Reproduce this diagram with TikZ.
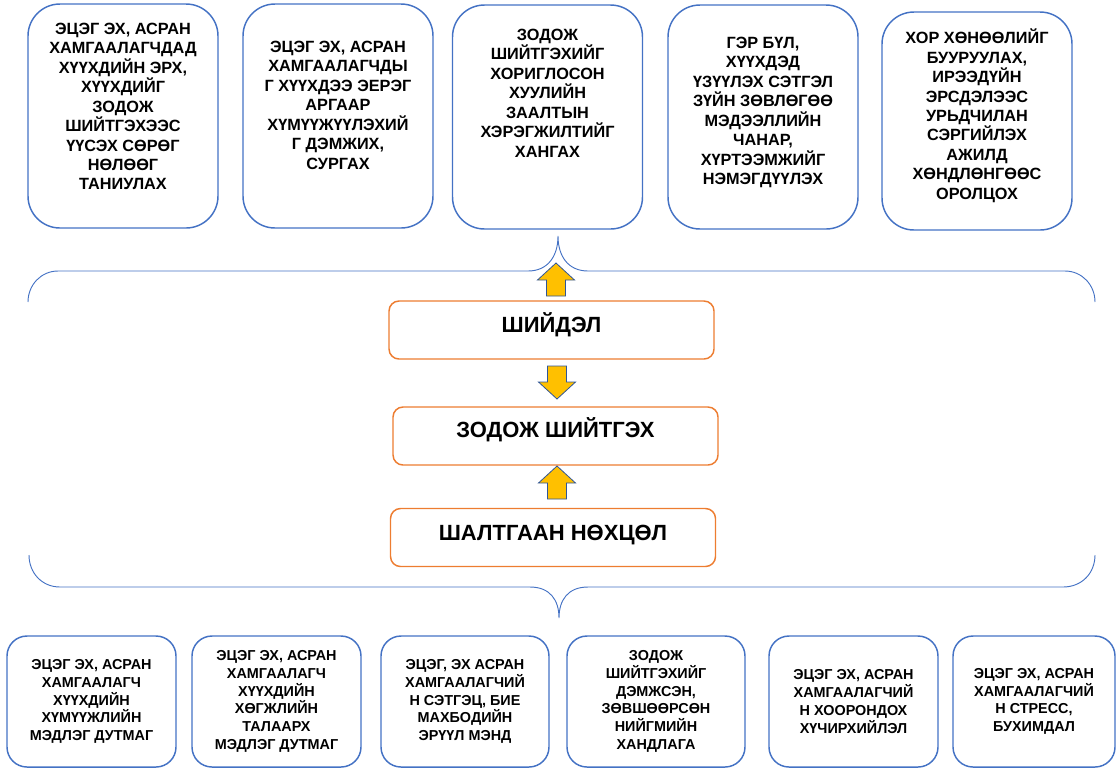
\documentclass[tikz,border=0pt]{standalone}
\usepackage{fontspec}
\setmainfont{Liberation Sans}
\usetikzlibrary{positioning}
\definecolor{boxblue}{HTML}{4472C4}
\definecolor{boxorange}{HTML}{ED7D31}
\definecolor{arrowyellow}{HTML}{FFC000}
\definecolor{arrowblue}{HTML}{2F5597}

\begin{document}
\begin{tikzpicture}[x=0.75pt,y=-0.75pt,
   topbox/.style={draw=boxblue,line width=1.1pt,rounded corners=24pt,minimum width=142.5pt,minimum height=168pt},
   toptext/.style={inner sep=0pt,align=center,font=\fontsize{12.2}{14.6}\selectfont\bfseries},
   midbox/.style={draw=boxorange,line width=1.1pt,rounded corners=7.5pt,minimum width=243.75pt,minimum height=43.5pt},
   midtext/.style={anchor=base,inner sep=0pt,font=\fontsize{16.5}{18}\selectfont\bfseries},
   botbox/.style={draw=boxblue,line width=1.1pt,rounded corners=15pt,minimum height=98.25pt,inner sep=0pt,align=center,font=\fontsize{10.8}{13.3}\selectfont\bfseries},
   brace/.style={draw=boxblue,line width=0.7pt},
   blockup/.pic={\draw[draw=arrowblue,fill=arrowyellow,line width=0.6pt,line join=miter]
      (-9.5,0) -- (-9.5,-16) -- (-18.5,-16) -- (0,-33) -- (18.5,-16) -- (9.5,-16) -- (9.5,0) -- cycle;}]
   \useasboundingbox (0,0) rectangle (1117,769);

   % results on top
   \node[topbox] (t1) at (123,116) {};
   \node[topbox] (t2) at (338,116) {};
   \node[topbox] (t3) at (547.5,117) {};
   \node[topbox] (t4) at (763,117) {};
   \node[topbox,minimum height=163.5pt] (t5) at (977,121) {};
   \node[toptext,below=14.5pt of t1.north] (t1txt) {ЭЦЭГ ЭХ, АСРАН\\ХАМГААЛАГЧДАД\\ХҮҮХДИЙН ЭРХ,\\ХҮҮХДИЙГ\\ЗОДОЖ\\ШИЙТГЭХЭЭС\\ҮҮСЭХ СӨРӨГ\\НӨЛӨӨГ\\ТАНИУЛАХ};
   \node[toptext,below=28pt of t2.north] (t2txt) {ЭЦЭГ ЭХ, АСРАН\\ХАМГААЛАГЧДЫ\\Г ХҮҮХДЭЭ ЭЕРЭГ\\АРГААР\\ХҮМҮҮЖҮҮЛЭХИЙ\\Г ДЭМЖИХ,\\СУРГАХ};
   \node[toptext,below=18.25pt of t3.north] (t3txt) {ЗОДОЖ\\ШИЙТГЭХИЙГ\\ХОРИГЛОСОН\\ХУУЛИЙН\\ЗААЛТЫН\\ХЭРЭГЖИЛТИЙГ\\ХАНГАХ};
   \node[toptext,below=24.25pt of t4.north] (t4txt) {ГЭР БҮЛ,\\ХҮҮХДЭД\\ҮЗҮҮЛЭХ СЭТГЭЛ\\ЗҮЙН ЗӨВЛӨГӨӨ\\МЭДЭЭЛЛИЙН\\ЧАНАР,\\ХҮРТЭЭМЖИЙГ\\НЭМЭГДҮҮЛЭХ};
   \node[toptext,below=13pt of t5.north] (t5txt) {ХОР ХӨНӨӨЛИЙГ\\БУУРУУЛАХ,\\ИРЭЭДҮЙН\\ЭРСДЭЛЭЭС\\УРЬДЧИЛАН\\СЭРГИЙЛЭХ\\АЖИЛД\\ХӨНДЛӨНГӨӨС\\ОРОЛЦОХ};

   % braces
   \draw[brace] (28,302) .. controls (28,285) and (41,271) .. (58,271) -- (528,271)
      .. controls (548,271) and (558,256) .. (558,236)
      .. controls (558,256) and (568,271) .. (588,271) -- (1065,271)
      .. controls (1082,271) and (1095,285) .. (1095,302);
   \draw[brace] (29,555) .. controls (29,573) and (42,587) .. (60,587) -- (530,587)
      .. controls (550,587) and (559,600) .. (559,618)
      .. controls (559,600) and (568,587) .. (588,587) -- (1063,587)
      .. controls (1082,587) and (1095,573) .. (1095,555);

   % middle chain
   \node[midbox] (sol) at (551.5,330) {};
   \node[midbox] (act) at (555.5,436) {};
   \node[midbox] (cause) at (553,537.5) {};
   \node[midtext] (soltxt) at ([yshift=-1.5pt]sol.center) {ШИЙДЭЛ};
   \node[midtext] (acttxt) at ([yshift=-0.75pt]act.center) {ЗОДОЖ ШИЙТГЭХ};
   \node[midtext] (causetxt) at ([yshift=-1.9pt]cause.center) {ШАЛТГААН НӨХЦӨЛ};
   \pic at (556,296) {blockup};
   \pic[rotate=180] at (557,366) {blockup};
   \pic at (557,499) {blockup};

   % causes at the bottom
   \node[botbox,minimum width=126.75pt] (b1) at (91.5,701.5) {ЭЦЭГ ЭХ, АСРАН\\ХАМГААЛАГЧ\\ХҮҮХДИЙН\\ХҮМҮҮЖЛИЙН\\МЭДЛЭГ ДУТМАГ};
   \node[botbox,minimum width=126.75pt] (b2) at (276.5,701.5) {ЭЦЭГ ЭХ, АСРАН\\ХАМГААЛАГЧ\\ХҮҮХДИЙН\\ХӨГЖЛИЙН\\ТАЛААРХ\\МЭДЛЭГ ДУТМАГ};
   \node[botbox,minimum width=126pt] (b3) at (465,701.5) {ЭЦЭГ, ЭХ АСРАН\\ХАМГААЛАГЧИЙ\\Н СЭТГЭЦ, БИЕ\\МАХБОДИЙН\\ЭРҮҮЛ МЭНД};
   \node[botbox,minimum width=133.5pt] (b4) at (656,701.5) {ЗОДОЖ\\ШИЙТГЭХИЙГ\\ДЭМЖСЭН,\\ЗӨВШӨӨРСӨН\\НИЙГМИЙН\\ХАНДЛАГА};
   \node[botbox,minimum width=126.75pt] (b5) at (853.5,701.5) {ЭЦЭГ ЭХ, АСРАН\\ХАМГААЛАГЧИЙ\\Н ХООРОНДОХ\\ХҮЧИРХИЙЛЭЛ};
   \node[botbox,minimum width=121.5pt] (b6) at (1034,701.5) {ЭЦЭГ ЭХ, АСРАН\\ХАМГААЛАГЧИЙ\\Н СТРЕСС,\\БУХИМДАЛ};
\end{tikzpicture}
\end{document}
